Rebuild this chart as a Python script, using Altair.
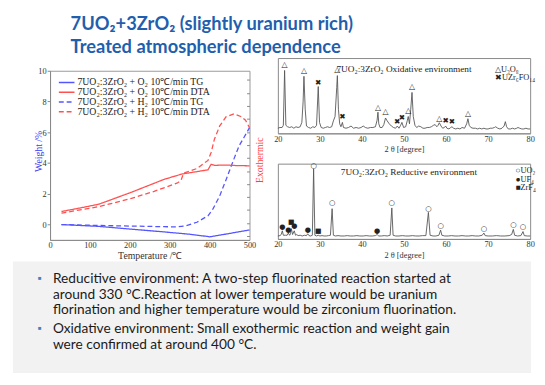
import altair as alt
import pandas as pd

SERIF = "Liberation Serif"
SANS = "Lato"
BLUE = "#5555ff"
RED = "#ff5050"

# ---------------- slide text ----------------
title_lines = ["7UO₂+3ZrO₂ (slightly uranium rich)", "Treated atmospheric dependence"]
bullet_lines = [
    "Reducitive environment: A two-step fluorinated reaction started at",
    "around 330 °C.Reaction at lower temperature would be uranium",
    "florination and higher temperature would be zirconium fluorination.",
    "Oxidative environment: Small exothermic reaction and weight gain",
    "were confirmed at around 400 °C.",
]
bullet_line_no = [0, 1, 2, 3, 4]
bullet_para = [0, 0, 0, 1, 1]
bullet_first = [True, False, False, True, False]

# ---------------- TG / DTA chart ----------------
series_names = [
    "7UO₂:3ZrO₂ + O₂ 10℃/min TG",
    "7UO₂:3ZrO₂ + O₂ 10℃/min DTA",
    "7UO₂:3ZrO₂ + H₂ 10℃/min TG",
    "7UO₂:3ZrO₂ + H₂ 10℃/min DTA",
]
o2_tg_t = [28.6, 122, 204, 286, 350, 396, 400, 450, 500]
o2_tg_v = [0.0, -0.12, -0.3, -0.48, -0.63, -0.78, -0.8, -0.58, -0.35]
o2_dta_t = [28.6, 60, 122, 204, 286, 330, 396, 401, 404, 412, 440, 470, 500]
o2_dta_v = [0.85, 1.0, 1.32, 2.1, 2.94, 3.28, 3.56, 3.8, 3.92, 3.85, 3.87, 3.83, 3.82]
h2_tg_t = [28.6, 122, 204, 286, 320, 340, 368, 396, 408, 425, 441, 458, 474, 486, 500]
h2_tg_v = [0.0, -0.06, -0.1, -0.14, -0.15, -0.08, 0.15, 0.57, 1.0, 1.84, 2.9, 4.07, 5.12, 5.66, 6.3]
h2_dta_t = [28.6, 122, 204, 261, 318, 328, 335, 368, 396, 404, 412, 425, 441, 461, 478, 490, 500]
h2_dta_v = [0.74, 1.16, 1.7, 2.16, 2.69, 2.85, 3.35, 3.64, 4.17, 4.7, 5.55, 6.4, 7.0, 7.2, 7.03, 6.78, 6.3]
# tick marks on the (unlabelled) DTA axis, in weight-% units of the shared frame
dta_ticks = [-0.75, 0.1, 0.94, 1.79, 2.64, 3.48, 4.33, 5.17, 6.02, 6.86, 7.71, 8.56, 9.4]

# ---------------- XRD, oxidative ----------------
ox_2t = [20.0, 20.5, 21.0, 21.3, 21.6, 21.9, 22.3, 22.8, 23.3, 23.8, 24.3, 24.8, 25.3, 25.7, 26.0, 26.2,
         26.5, 26.8, 27.3, 27.8, 28.3, 28.8, 29.2, 29.6, 29.9, 30.3, 30.8, 31.3, 31.8, 32.3, 32.8, 33.2,
         33.6, 34.0, 34.15, 34.4, 34.7, 35.0, 35.35, 35.6, 36.2, 36.8, 37.4, 38.0, 38.6, 39.2, 39.8, 40.3,
         40.8, 41.4, 42.0, 42.6, 43.2, 43.6, 43.8, 44.0, 44.3, 44.8, 45.2, 45.6, 46.0, 46.5, 47.0, 47.5,
         48.0, 48.4, 48.8, 49.2, 49.5, 49.9, 50.4, 50.8, 51.0, 51.3, 51.6, 51.9, 52.2, 52.6, 53.0, 53.5,
         54.0, 54.5, 55.0, 55.5, 56.0, 56.5, 57.0, 57.4, 57.8, 58.1, 58.4, 58.8, 59.2, 59.6, 59.9, 60.2,
         60.7, 61.1, 61.4, 61.8, 62.3, 62.8, 63.3, 63.8, 64.4, 64.9, 65.2, 65.5, 65.9, 66.4, 67.0, 67.5,
         68.0, 68.5, 69.0, 69.5, 70.0, 70.5, 71.0, 71.5, 71.8, 72.3, 72.8, 73.3, 73.8, 74.1, 74.4, 74.8,
         75.3, 75.8, 76.3, 76.8, 77.1, 77.5, 78.0, 78.5, 79.0, 79.5, 80.0]
ox_int = [4, 5, 5, 8, 83, 8, 6, 5, 6, 4, 6, 5, 6, 12, 40, 75,
          30, 7, 5, 4, 6, 5, 8, 61, 12, 5, 4, 5, 6, 5, 6, 14,
          20, 60, 76, 30, 10, 6, 12, 5, 4, 5, 7, 4, 5, 4, 5, 7,
          5, 4, 5, 5, 6, 15, 26, 10, 5, 5, 9, 18, 14, 10, 7, 5,
          4, 7, 4, 8, 12, 5, 6, 15, 20, 10, 30, 53, 20, 8, 5, 7,
          6, 4, 4, 5, 5, 6, 8, 9, 6, 8, 11.5, 7, 4, 5, 7, 4,
          3, 5, 6, 4, 3, 4, 3, 5, 4, 10, 17, 8, 5, 4, 4, 3,
          4, 3, 4, 3, 3, 4, 4, 5, 6, 4, 3, 4, 7, 13, 6, 3,
          3, 4, 3, 4, 5, 4, 3, 3, 4, 3, 3]
ox_mark_2t = [21.6, 26.2, 29.6, 34.15, 35.35, 43.8, 45.6, 48.4, 49.5, 51.0, 51.9, 58.4, 59.9, 61.4, 65.2]
ox_mark_int = [91, 82, 66, 84, 19, 32, 26, 12, 18, 27, 60, 16, 14, 12, 23]
ox_mark_sym = ["△", "△", "✖", "△", "✖", "△", "△", "✖", "✖", "△", "△", "△", "✖", "✖", "△"]
ox_legend = ["△U₃O₈", "✖UZr₆FO₁₄"]

# ---------------- XRD, reductive ----------------
rd_2t = [20.0, 20.5, 20.8, 21.06, 21.3, 21.8, 22.2, 22.5, 22.8, 23.0, 23.2, 23.5, 23.9, 24.2, 24.5, 24.8,
         25.3, 25.8, 26.3, 26.8, 27.1, 27.4, 27.8, 28.2, 28.5, 28.8, 29.2, 29.6, 30.0, 30.5, 31.0, 31.5,
         32.0, 32.5, 32.9, 33.2, 33.7, 34.3, 35.0, 35.8, 36.5, 37.2, 38.0, 38.8, 39.5, 40.3, 41.0, 41.8,
         42.5, 43.2, 43.6, 44.0, 44.6, 45.3, 46.0, 46.7, 47.1, 47.4, 48.0, 48.8, 49.6, 50.4, 51.2, 52.0,
         52.8, 53.6, 54.4, 55.2, 55.8, 56.2, 56.9, 57.6, 58.3, 58.7, 59.0, 59.7, 60.5, 61.3, 62.1, 63.0,
         63.8, 64.6, 65.4, 66.2, 67.0, 67.8, 68.6, 69.0, 69.3, 70.0, 71.0, 72.0, 73.0, 74.0, 75.0, 75.6,
         76.0, 76.3, 77.0, 77.8, 78.3, 78.6, 79.3, 80.0]
rd_int = [2, 2.5, 4, 9, 3, 3, 3, 6, 3, 5, 12, 4, 9, 3, 4, 2.5,
          3, 2, 3, 2.5, 5, 2.5, 2, 3, 93, 3, 2, 3, 2, 2.5, 2, 2,
          2.5, 3, 39, 3, 2, 2.5, 2, 2, 2.5, 2, 2, 2.5, 2, 2, 2.5, 2,
          2, 2.5, 4, 2, 2, 2.5, 2, 3, 40, 3, 2, 2, 2.5, 2, 2, 2.5,
          2, 2, 2.5, 2.5, 34, 3, 2, 2, 3, 10, 3, 2, 2, 2.5, 2, 2,
          2.5, 2, 2, 2.5, 2, 2, 3, 6, 2.5, 2, 2, 2.5, 2, 2, 2.5, 4,
          11, 3, 2, 2.5, 8, 2.5, 2, 2]
rd_mark_2t = [28.5, 32.9, 47.1, 55.8, 58.7, 69.0, 76.0, 78.3, 21.06, 22.5, 23.9, 27.1, 43.6, 23.2, 29.6]
rd_mark_int = [97, 46, 46, 39, 15, 11, 17, 14, 14, 10, 15, 10, 9, 21, 9]
rd_mark_sym = ["○", "○", "○", "○", "○", "○", "○", "○", "●", "●", "●", "●", "●", "■", "■"]
rd_legend = ["○UO₂", "●UF₄", "■ZrF₄"]

# ================= build =================
rows = []
for name, ts, vs, kind in [
    (series_names[0], o2_tg_t, o2_tg_v, "TG"),
    (series_names[1], o2_dta_t, o2_dta_v, "DTA"),
    (series_names[2], h2_tg_t, h2_tg_v, "TG"),
    (series_names[3], h2_dta_t, h2_dta_v, "DTA"),
]:
    for i, (t, v) in enumerate(zip(ts, vs)):
        rows.append({"series": name, "t": t, "v": v, "i": i, "kind": kind})
thermo = pd.DataFrame(rows)

legend_cfg = dict(
    orient="none", legendX=12, legendY=20, title=None, padding=0,
    symbolType="M-2,0L2,0", symbolSize=64, symbolStrokeWidth=1.6,
    labelFont=SERIF, labelFontSize=10, labelColor="#222", labelOffset=6,
    rowPadding=-1.9, labelLimit=400,
)
color = alt.Color("series:N", scale=alt.Scale(domain=series_names, range=[BLUE, RED, BLUE, RED]),
                  legend=alt.Legend(**legend_cfg))
dash = alt.StrokeDash("series:N", scale=alt.Scale(domain=series_names, range=[[1, 0], [1, 0], [5, 3], [5, 3]]),
                      legend=alt.Legend(**legend_cfg))
xT = alt.X("t:Q", scale=alt.Scale(domain=[0, 500], nice=False),
           axis=alt.Axis(values=[0, 100, 200, 300, 400, 500], title="Temperature /℃", ticks=False,
                         labelFlush=False, labelOverlap=False, labelPadding=1, titlePadding=1,
                         titleFontSize=10))
yscale = alt.Scale(domain=[-1, 10], nice=False, zero=False)

tg_layer = alt.Chart(thermo).transform_filter("datum.kind == 'TG'").mark_line(strokeWidth=1.3).encode(
    x=xT,
    y=alt.Y("v:Q", scale=yscale,
            axis=alt.Axis(orient="left", values=[0, 2, 4, 6, 8, 10], title="Weight /%", titleColor="#3b3bf5",
                          tickSize=3, labelPadding=1, titleX=-12, titleY=82, titleAngle=270,
                          titleBaseline="middle", titleAlign="center", titleFontSize=10)),
    color=color, strokeDash=dash, order="i:Q",
)
dta_layer = alt.Chart(thermo).transform_filter("datum.kind == 'DTA'").mark_line(strokeWidth=1.3).encode(
    x=xT,
    y=alt.Y("v:Q", scale=yscale,
            axis=alt.Axis(orient="right", labels=False, ticks=True, tickSize=3, domain=False, offset=-3,
                          values=dta_ticks, title="Exothermic", titleColor="#ff4040",
                          titleX=13, titleY=91, titleAngle=270, titleBaseline="middle", titleAlign="center",
                          titleFontSize=10)),
    color=color, strokeDash=dash, order="i:Q",
)
# invisible anchor that reserves the slide's left margin next to the TG/DTA figure
left_margin = alt.Chart(pd.DataFrame({"k": [0]})).mark_point(opacity=0, size=1).encode(
    x=alt.value(-38), y=alt.value(0))
left = alt.layer(tg_layer, dta_layer, left_margin).resolve_axis(y="independent").properties(
    width=204, height=173, view=alt.ViewBackground(stroke="#999", strokeWidth=1))

spacer = alt.Chart(pd.DataFrame({"k": [0]})).mark_point(opacity=0, size=1).encode(
    x=alt.value(0), y=alt.value(0)).properties(width=150, height=8)


def xrd_chart(two_t, inten, m2t, mint, msym, title_text, title_xy, legend_lines, legend_x, legend_y0, ymin):
    spec = pd.DataFrame({"tt": two_t, "I": inten})
    marks = pd.DataFrame({"tt": m2t, "I": mint, "sym": msym})
    xs = alt.X("tt:Q", scale=alt.Scale(domain=[20, 80], nice=False),
               axis=alt.Axis(values=[20, 30, 40, 50, 60, 70, 80], title="2 θ [degree]", ticks=False,
                             labelFlush=False, labelOverlap=False, labelPadding=1, titlePadding=2,
                             labelFontSize=8.5, titleFontSize=8.5))
    ys = alt.Scale(domain=[ymin, 100], nice=False, zero=False)
    line = alt.Chart(spec).mark_line(color="#555", strokeWidth=0.9).encode(
        x=xs, y=alt.Y("I:Q", scale=ys, axis=None))
    sym = alt.Chart(marks).mark_text(font="DejaVu Sans", color="#222", baseline="middle").encode(
        x=alt.X("tt:Q", scale=alt.Scale(domain=[20, 80], nice=False)),
        y=alt.Y("I:Q", scale=ys, axis=None),
        text="sym:N",
        size=alt.Size("sym:N", scale=alt.Scale(domain=["△", "✖", "○", "●", "■"], range=[8, 7, 8, 7, 7]),
                      legend=None),
    )
    layers = [line, sym]
    layers.append(alt.Chart(pd.DataFrame({"txt": [title_text]})).mark_text(
        font=SERIF, fontSize=9.5, color="#222", baseline="middle").encode(
        x=alt.value(title_xy[0]), y=alt.value(title_xy[1]), text="txt:N"))
    for k, lt in enumerate(legend_lines):
        layers.append(alt.Chart(pd.DataFrame({"txt": [lt]})).mark_text(
            font=SERIF, fontSize=8.5, color="#222", baseline="middle", align="left").encode(
            x=alt.value(legend_x), y=alt.value(legend_y0 + 8.5 * k), text="txt:N"))
    return alt.layer(*layers).properties(width=258, height=77,
                                         view=alt.ViewBackground(stroke="#888", strokeWidth=1))


xrd1 = xrd_chart(ox_2t, ox_int, ox_mark_2t, ox_mark_int, ox_mark_sym,
                 "7UO₂:3ZrO₂ Oxidative environment", (129, 11), ox_legend, 222, 11, -3)
xrd2 = xrd_chart(rd_2t, rd_int, rd_mark_2t, rd_mark_int, rd_mark_sym,
                 "7UO₂:3ZrO₂ Reductive environment", (134, 9), rd_legend, 243, 7, -2)

bul = pd.DataFrame({"text": bullet_lines, "line": bullet_line_no, "para": bullet_para, "first": bullet_first})
bul_y = alt.Y("pos:Q", scale=alt.Scale(domain=[-1.125, 6.0], reverse=True, nice=False, zero=False), axis=None)
panel = alt.Chart(bul.head(1)).mark_rect(color="#f2f2f2").encode(
    x=alt.value(-38), x2=alt.value(492), y=alt.value(0), y2=alt.value(114))
btxt = alt.Chart(bul).transform_calculate(pos="datum.line + 0.19 * datum.para").mark_text(
    align="left", baseline="middle", font=SANS, fontSize=14, color="#1a1a1a").encode(
    x=alt.value(3), y=bul_y, text="text:N")
bdots = alt.Chart(bul).transform_filter("datum.first").transform_calculate(
    pos="datum.line + 0.19 * datum.para").mark_text(
    align="left", baseline="middle", font=SANS, fontSize=11, color="#4a7ebb", text="▪").encode(
    x=alt.value(-13), y=bul_y)
bullets = alt.layer(panel, btxt, bdots).properties(width=470, height=114)

row = alt.hconcat(alt.vconcat(spacer, left, spacing=0), alt.vconcat(xrd1, xrd2, spacing=7), spacing=8)

chart = alt.vconcat(row, bullets, spacing=1).properties(
    title=alt.TitleParams(title_lines, anchor="start", frame="bounds", dx=60, dy=5, offset=6, font=SANS,
                          fontSize=18.7, fontWeight="bold", color="#1f5fae", lineHeight=23),
    padding={"left": 4, "top": 3, "right": 0, "bottom": 0},
).configure_view(strokeWidth=0).configure_axis(
    labelFont=SERIF, titleFont=SERIF, labelColor="#333", titleColor="#333", domainColor="#888",
    tickColor="#888", labelFontSize=8.5, titleFontWeight="normal", grid=False,
)

chart.save("out.html", embed_options={"renderer": "svg", "actions": False})
